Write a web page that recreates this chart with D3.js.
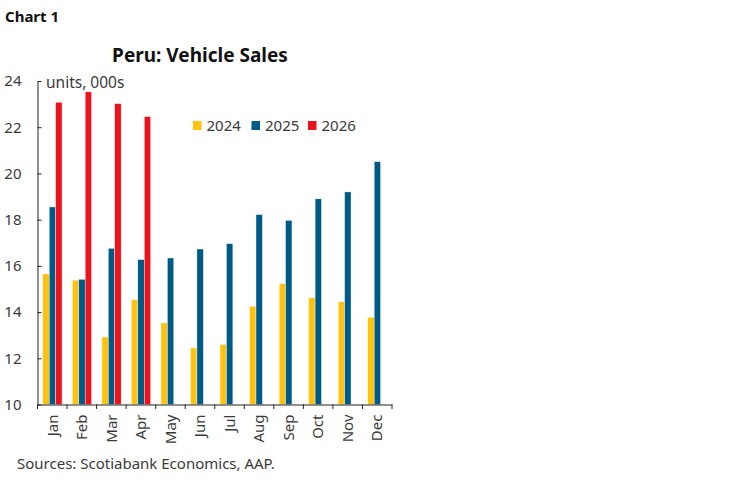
<!DOCTYPE html>
<html>
<head>
<meta charset="utf-8">
<script src="https://cdn.jsdelivr.net/npm/d3@7"></script>
<style>
  html, body { margin: 0; padding: 0; background: #fff; }
  svg { display: block; }
  text { font-family: "Noto Sans", "Open Sans", sans-serif; }
</style>
</head>
<body>
<svg id="chart" width="748" height="483"></svg>
<script>
const months = ["Jan","Feb","Mar","Apr","May","Jun","Jul","Aug","Sep","Oct","Nov","Dec"];
const seriesNames = ["2024","2025","2026"];
const sales2024 = [15.65,15.38,12.92,14.54,13.53,12.45,12.6,14.25,15.23,14.62,14.45,13.77];
const sales2025 = [18.55,15.42,16.76,16.27,16.34,16.73,16.96,18.22,17.97,18.9,19.2,20.51];
const sales2026 = [23.08,23.53,23.02,22.46,null,null,null,null,null,null,null,null];
const yTicks = [10,12,14,16,18,20,22,24];
const colors = ["#ffc20e","#005a87","#ec131c"];

const svg = d3.select("#chart");
const x = d3.scaleBand().domain(months).range([37.5, 392]).paddingInner(0).paddingOuter(0);
const y = d3.scaleLinear().domain([10, 24]).range([404.5, 81]);
const inner = d3.scaleBand().domain(seriesNames).range([5.3, x.bandwidth() - 5.0]).padding(0);

const allSeries = [sales2024, sales2025, sales2026];

// bars
allSeries.forEach((vals, si) => {
  svg.append("g").selectAll("rect")
    .data(vals.map((v, i) => ({m: months[i], v})).filter(d => d.v != null))
    .join("rect")
    .attr("x", d => x(d.m) + inner(seriesNames[si]))
    .attr("y", d => y(d.v))
    .attr("width", inner.bandwidth())
    .attr("height", d => y(10) - y(d.v))
    .attr("fill", colors[si])
    .attr("stroke", "#ffffff")
    .attr("stroke-width", 0.4);
});

const textColor = "#3a3a3a";

// y axis
const yAxis = d3.axisLeft(y).tickValues(yTicks).tickSizeInner(-4).tickSizeOuter(0).tickPadding(16);
const gy = svg.append("g").attr("transform", `translate(37.5,0)`).call(yAxis);
gy.select(".domain").attr("stroke", "#222");
gy.selectAll(".tick line").attr("stroke", "#222");
gy.selectAll(".tick text").attr("font-size", 15).attr("fill", textColor).attr("font-family", '"Noto Sans", sans-serif');

// x axis
const xAxis = d3.axisBottom(x).tickSize(0).tickSizeOuter(0);
const gx = svg.append("g").attr("transform", `translate(0,${y(10)})`).call(xAxis);
gx.select(".domain").attr("stroke", "#222");
gx.selectAll(".tick text")
  .attr("font-size", 15).attr("fill", textColor).attr("font-family", '"Noto Sans", sans-serif')
  .attr("transform", "rotate(-90)")
  .attr("text-anchor", "end")
  .attr("dy", "0.35em")
  .attr("x", -10).attr("y", 0);
// boundary tick marks between months
const bounds = months.map(m => x(m)).concat([x.range()[1]]);
svg.append("g").selectAll("line").data(bounds).join("line")
  .attr("x1", d => d).attr("x2", d => d)
  .attr("y1", y(10)).attr("y2", y(10) + 4.5)
  .attr("stroke", "#222").attr("stroke-width", 1);

// titles
svg.append("text").attr("x", 5).attr("y", 22).attr("font-size", 15).attr("font-weight", "bold").attr("fill", "#111").text("Chart 1");
svg.append("text").attr("x", 200).attr("y", 62).attr("text-anchor", "middle").attr("font-size", 19).attr("font-weight", "bold").attr("fill", "#111").text("Peru: Vehicle Sales");
svg.append("text").attr("x", 46).attr("y", 88).attr("font-size", 15.5).attr("fill", textColor).text("units, 000s");

// legend
const legendX = [193, 251.5, 308];
seriesNames.forEach((n, i) => {
  svg.append("rect").attr("x", legendX[i]).attr("y", 121).attr("width", 8.5).attr("height", 9).attr("fill", colors[i]);
  svg.append("text").attr("x", legendX[i] + 13.5).attr("y", 131).attr("font-size", 15).attr("fill", textColor).text(n);
});

// source
svg.append("text").attr("x", 17).attr("y", 469).attr("font-size", 15).attr("fill", textColor).text("Sources: Scotiabank Economics, AAP.");
</script>
</body>
</html>
